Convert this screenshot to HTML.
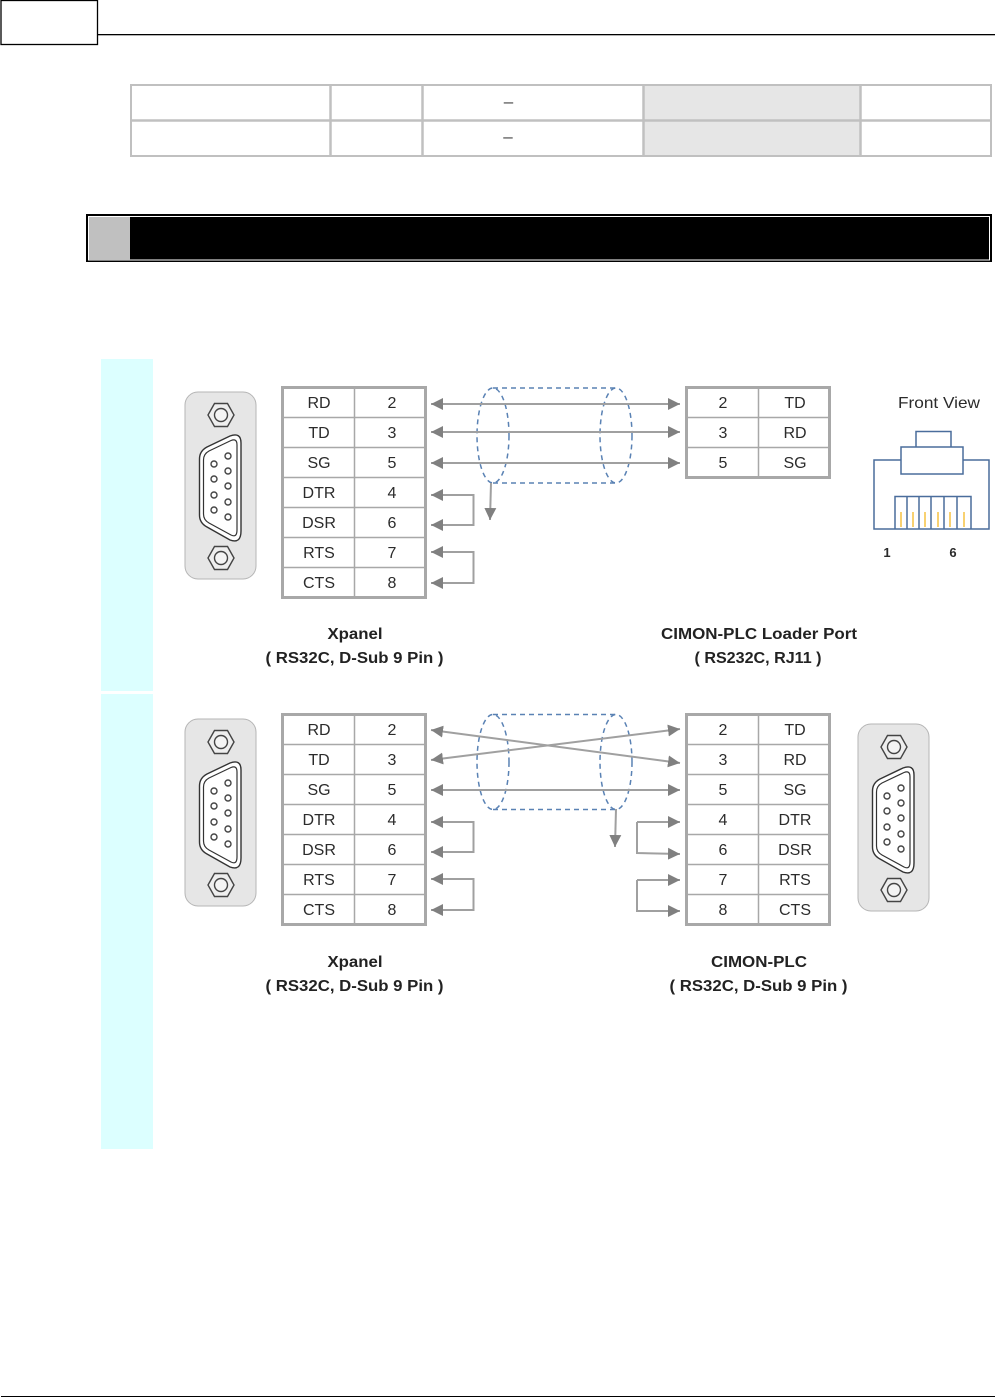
<!DOCTYPE html>
<html><head><meta charset="utf-8"><title>Cable diagram</title>
<style>
html,body{margin:0;padding:0;background:#fff}
svg{display:block}
text{font-family:"Liberation Sans",sans-serif;fill:#2b2b2b;font-size:16px;text-anchor:middle}
.b{font-weight:bold;font-size:16px;fill:#222}
</style></head>
<body>
<svg xmlns="http://www.w3.org/2000/svg" width="1001" height="1397" viewBox="0 0 1001 1397">
<defs>
<marker id="h" viewBox="0 0 12 12" markerUnits="userSpaceOnUse" markerWidth="12" markerHeight="12" refX="12" refY="6" orient="auto-start-reverse"><path d="M0 0L12 6L0 12Z" fill="#808080"/></marker>
<g id="conn">
<rect x="185" y="392" width="71" height="187" rx="13" fill="#e6e6e6" stroke="#b5b5b5" stroke-width="1"/>
<polygon points="208,415 214.500,403.500 227.500,403.500 234,415 227.500,426.500 214.500,426.500" fill="#eee" stroke="#444" stroke-width="1.400"/>
<circle cx="221" cy="415" r="6.500" fill="#f4f4f4" stroke="#444" stroke-width="1.400"/>
<polygon points="208,558 214.500,546.500 227.500,546.500 234,558 227.500,569.500 214.500,569.500" fill="#eee" stroke="#444" stroke-width="1.400"/>
<circle cx="221" cy="558" r="6.500" fill="#f4f4f4" stroke="#444" stroke-width="1.400"/>
<path d="M207 447L230 436Q241 432 241 443V531Q241 544 230 540L207 527Q199.500 523 199.500 515V459Q199.500 451 207 447Z" fill="#fff" stroke="#333" stroke-width="1.400"/>
<path d="M209 451L231 440.500Q237 438 237 445V530Q237 538 231 535L209 523Q203.500 520 203.500 514V460Q203.500 454 209 451Z" fill="#fff" stroke="#333" stroke-width="1.200"/>
<g fill="#fff" stroke="#444" stroke-width="1.400">
<circle cx="214" cy="464" r="3"/><circle cx="214" cy="479" r="3"/><circle cx="214" cy="495" r="3"/><circle cx="214" cy="510" r="3"/>
<circle cx="228" cy="456" r="3"/><circle cx="228" cy="471" r="3"/><circle cx="228" cy="486" r="3"/><circle cx="228" cy="502" r="3"/><circle cx="228" cy="517" r="3"/>
</g>
</g>
<g id="grid7" fill="none" stroke="#a8a8a8">
<path d="M282 417.500H426M282 447.500H426M282 477.500H426M282 507.500H426M282 537.500H426M282 567.500H426M354.500 387V597" stroke-width="1.500"/>
<rect x="282.500" y="387.500" width="143" height="210" stroke-width="3"/>
</g>
<g id="grid3" fill="none" stroke="#a8a8a8">
<path d="M686 417.500H830M686 447.500H830M758.500 387V477" stroke-width="1.500"/>
<rect x="686.500" y="387.500" width="143" height="90" stroke-width="3"/>
</g>
<g id="shield" fill="none" stroke="#5a82b4" stroke-width="1.500" stroke-dasharray="5 4">
<ellipse cx="493" cy="435.500" rx="16" ry="47.500"/>
<ellipse cx="616" cy="435.500" rx="16" ry="47.500"/>
<path d="M493 388H616M493 483H616"/>
</g>
<g id="loopL" fill="none" stroke="#a0a0a0" stroke-width="2">
<path d="M431 495H473.500V525H431" marker-start="url(#h)" marker-end="url(#h)"/>
<path d="M431 552H473.500V583H431" marker-start="url(#h)" marker-end="url(#h)"/>
</g>
</defs>

<!-- page header -->
<rect x="1" y="0.500" width="96.500" height="44" fill="#fff" stroke="#000" stroke-width="1.300"/>
<rect x="98" y="34" width="897" height="1.300" fill="#000"/>
<rect x="1" y="1396" width="994" height="1" fill="#000"/>

<!-- table -->
<rect x="644" y="85" width="216" height="70" fill="#e6e6e6"/>
<g fill="none" stroke="#c0c0c0" stroke-width="2">
<rect x="131" y="85" width="860" height="71"/>
<path d="M330.500 85V156M422.500 85V156M643.500 85V156M860.500 85V156M131 120.500H991" stroke-width="2.500"/>
</g>
<text x="508.500" y="107" style="font-size:17px;fill:#444">–</text>
<text x="508" y="142" style="font-size:17px;fill:#444">–</text>

<!-- section bar -->
<rect x="86" y="214" width="906" height="48" fill="#000"/>
<rect x="88.500" y="216.500" width="901" height="43.500" fill="#000" stroke="#fff" stroke-width="1"/>
<rect x="89" y="217" width="41" height="43" fill="#c0c0c0"/>

<!-- cyan columns -->
<rect x="101" y="359" width="52" height="332" fill="#dcffff"/>
<rect x="101" y="694" width="52" height="455" fill="#dcffff"/>

<g style="filter:blur(.35px)">
<!-- diagram 1 -->
<use href="#conn"/>
<use href="#grid7"/>
<use href="#grid3"/>
<use href="#shield"/>
<g fill="none" stroke="#a0a0a0" stroke-width="2">
<path d="M431 404H680" marker-start="url(#h)" marker-end="url(#h)"/>
<path d="M431 432H680" marker-start="url(#h)" marker-end="url(#h)"/>
<path d="M431 463H680" marker-start="url(#h)" marker-end="url(#h)"/>
<path d="M491 483L490 520" marker-end="url(#h)"/>
</g>
<use href="#loopL"/>
<text x="319" y="408">RD</text><text x="392" y="408">2</text>
<text x="319" y="438">TD</text><text x="392" y="438">3</text>
<text x="319" y="468">SG</text><text x="392" y="468">5</text>
<text x="319" y="498">DTR</text><text x="392" y="498">4</text>
<text x="319" y="528">DSR</text><text x="392" y="528">6</text>
<text x="319" y="558">RTS</text><text x="392" y="558">7</text>
<text x="319" y="588">CTS</text><text x="392" y="588">8</text>
<text x="723" y="408">2</text><text x="795" y="408">TD</text>
<text x="723" y="438">3</text><text x="795" y="438">RD</text>
<text x="723" y="468">5</text><text x="795" y="468">SG</text>
<text x="939" y="408" textLength="82" lengthAdjust="spacingAndGlyphs">Front View</text>
<g fill="none" stroke="#4a6d9c" stroke-width="1.500">
<path d="M901 460H874V529H989V460H963"/>
<rect x="901" y="447" width="62" height="27"/>
<path d="M916 447V431.500H951V447"/>
<path d="M895 529V496.500H971V529M907 497V529M919 497V529M931 497V529M944 497V529M957 497V529"/>
</g>
<path d="M901 512V527M913 512V527M925 512V527M938 512V527M950 512V527M964 512V527" stroke="#f5c242" stroke-width="1.500"/>
<text x="887" y="557" style="font-size:13px;font-weight:bold">1</text>
<text x="953" y="557" style="font-size:13px;font-weight:bold">6</text>
<text class="b" x="355" y="639" textLength="55" lengthAdjust="spacingAndGlyphs">Xpanel</text>
<text class="b" x="354.500" y="663" textLength="178" lengthAdjust="spacingAndGlyphs">( RS32C, D-Sub 9 Pin )</text>
<text class="b" x="759" y="639" textLength="196" lengthAdjust="spacingAndGlyphs">CIMON-PLC Loader Port</text>
<text class="b" x="758" y="663" textLength="127" lengthAdjust="spacingAndGlyphs">( RS232C, RJ11 )</text>

<!-- diagram 2 -->
<use href="#conn" y="327"/>
<use href="#conn" x="673" y="332"/>
<use href="#grid7" y="327"/>
<use href="#grid7" x="404" y="327"/>
<use href="#shield" y="326.500"/>
<g fill="none" stroke="#a0a0a0" stroke-width="2">
<path d="M431 730L680 763" marker-start="url(#h)" marker-end="url(#h)"/>
<path d="M431 760L680 729" marker-start="url(#h)" marker-end="url(#h)"/>
<path d="M431 790H680" marker-start="url(#h)" marker-end="url(#h)"/>
<path d="M616 809L615 847" marker-end="url(#h)"/>
<path d="M637 822H680" marker-end="url(#h)"/>
<path d="M637 822V853L680 854" marker-end="url(#h)"/>
<path d="M637 880H680" marker-end="url(#h)"/>
<path d="M637 880V911H680" marker-end="url(#h)"/>
</g>
<use href="#loopL" y="327"/>
<text x="319" y="735">RD</text><text x="392" y="735">2</text>
<text x="319" y="765">TD</text><text x="392" y="765">3</text>
<text x="319" y="795">SG</text><text x="392" y="795">5</text>
<text x="319" y="825">DTR</text><text x="392" y="825">4</text>
<text x="319" y="855">DSR</text><text x="392" y="855">6</text>
<text x="319" y="885">RTS</text><text x="392" y="885">7</text>
<text x="319" y="915">CTS</text><text x="392" y="915">8</text>
<text x="723" y="735">2</text><text x="795" y="735">TD</text>
<text x="723" y="765">3</text><text x="795" y="765">RD</text>
<text x="723" y="795">5</text><text x="795" y="795">SG</text>
<text x="723" y="825">4</text><text x="795" y="825">DTR</text>
<text x="723" y="855">6</text><text x="795" y="855">DSR</text>
<text x="723" y="885">7</text><text x="795" y="885">RTS</text>
<text x="723" y="915">8</text><text x="795" y="915">CTS</text>
<text class="b" x="355" y="967" textLength="55" lengthAdjust="spacingAndGlyphs">Xpanel</text>
<text class="b" x="354.500" y="991" textLength="178" lengthAdjust="spacingAndGlyphs">( RS32C, D-Sub 9 Pin )</text>
<text class="b" x="759" y="967" textLength="96" lengthAdjust="spacingAndGlyphs">CIMON-PLC</text>
<text class="b" x="758.500" y="991" textLength="178" lengthAdjust="spacingAndGlyphs">( RS32C, D-Sub 9 Pin )</text>
</g>
</svg>
</body></html>
